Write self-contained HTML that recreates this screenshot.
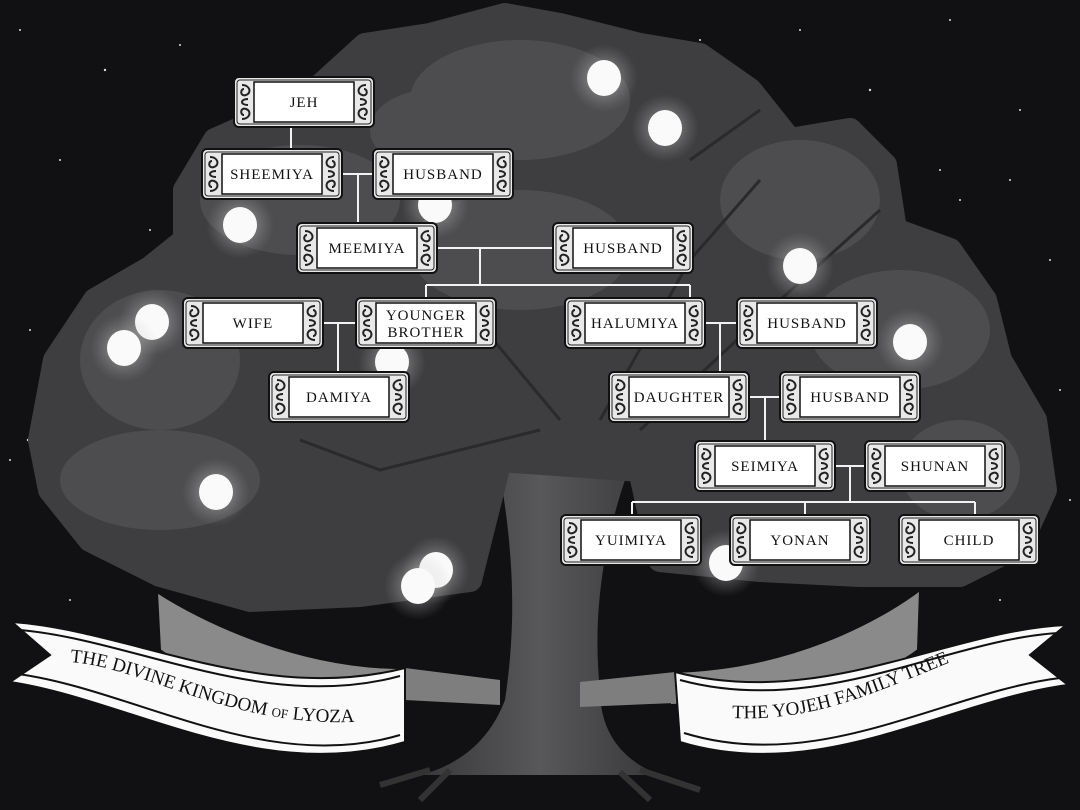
<!DOCTYPE html>
<html><head><meta charset="utf-8"><style>
html,body{margin:0;padding:0;background:#111114;}
svg{display:block}
text{font-family:"Liberation Serif",serif;}
</style></head><body>
<svg width="1080" height="810" viewBox="0 0 1080 810" xmlns="http://www.w3.org/2000/svg">
<defs>
<radialGradient id="glow"><stop offset="0" stop-color="#fff" stop-opacity="0.55"/><stop offset="1" stop-color="#aaa" stop-opacity="0"/></radialGradient>
<linearGradient id="trunk" x1="0" x2="1"><stop offset="0" stop-color="#38383a"/><stop offset="0.5" stop-color="#58585a"/><stop offset="1" stop-color="#38383a"/></linearGradient>
<g id="frame">
<rect x="0" y="0" width="140" height="50" rx="5" fill="#e8e8e8" stroke="#111" stroke-width="2"/>
<rect x="3" y="3" width="134" height="44" rx="3" fill="none" stroke="#222" stroke-width="1"/>
<g fill="none" stroke="#222" stroke-width="2">
<path d="M8 8 C16 8 18 16 12 18 C6 20 6 12 10 12 M8 42 C16 42 18 34 12 32 C6 30 6 38 10 38 M14 22 C6 22 6 28 14 28"/>
<path d="M132 8 C124 8 122 16 128 18 C134 20 134 12 130 12 M132 42 C124 42 122 34 128 32 C134 30 134 38 130 38 M126 22 C134 22 134 28 126 28"/>
</g>
<rect x="20" y="5" width="100" height="40" fill="#fff" stroke="#111" stroke-width="1.5"/>
</g>
<g id="lan"><circle r="34" fill="url(#glow)"/><ellipse rx="17" ry="18" fill="#fafafa"/></g>
</defs>
<rect width="1080" height="810" fill="#111114"/>
<g fill="#ddd">
<circle cx="20" cy="30" r="1"/><circle cx="105" cy="70" r="1.2"/><circle cx="180" cy="45" r="1"/><circle cx="60" cy="160" r="1"/><circle cx="150" cy="230" r="1"/><circle cx="30" cy="330" r="1"/><circle cx="10" cy="460" r="1"/><circle cx="800" cy="30" r="1"/><circle cx="870" cy="90" r="1.2"/><circle cx="950" cy="20" r="1"/><circle cx="1020" cy="110" r="1"/><circle cx="960" cy="200" r="1"/><circle cx="1050" cy="260" r="1"/><circle cx="1060" cy="390" r="1"/><circle cx="940" cy="170" r="1"/><circle cx="700" cy="40" r="1"/><circle cx="430" cy="25" r="1"/><circle cx="1000" cy="600" r="1"/><circle cx="940" cy="560" r="1"/><circle cx="70" cy="600" r="1"/><circle cx="120" cy="530" r="1"/><circle cx="1070" cy="500" r="1"/><circle cx="28" cy="440" r="1.2"/><circle cx="80" cy="540" r="1"/><circle cx="1010" cy="180" r="1"/>
</g>
<!-- trunk -->
<path d="M490 420 C510 520 520 600 505 700 C490 740 460 765 420 775 L660 775 C620 760 600 730 600 690 C590 600 610 500 650 420 Z" fill="url(#trunk)"/>
<path d="M430 770 L380 785 M450 770 L420 800 M640 770 L700 790 M620 772 L650 800" stroke="#333" stroke-width="6"/>
<!-- canopy -->
<path d="M40 440 L55 360 L95 300 L150 268 L185 240 L185 190 L215 140 L260 120 L310 95 L365 45 L430 35 L505 15 L560 25 L640 45 L700 55 L750 90 L790 140 L850 130 L885 165 L895 230 L950 250 L985 300 L1000 360 L1035 420 L1045 490 L1020 545 L960 575 L860 575 L760 570 L660 560 L640 470 L500 460 L470 580 L360 595 L250 600 L160 575 L90 540 L50 490 Z" fill="#3e3e40" stroke="#3e3e40" stroke-width="24" stroke-linejoin="round"/>
<g fill="#505052" opacity="0.85">
<ellipse cx="520" cy="100" rx="110" ry="60"/>
<ellipse cx="300" cy="200" rx="100" ry="55"/>
<ellipse cx="800" cy="200" rx="80" ry="60"/>
<ellipse cx="160" cy="360" rx="80" ry="70"/>
<ellipse cx="900" cy="330" rx="90" ry="60"/>
<ellipse cx="520" cy="250" rx="110" ry="60"/>
<ellipse cx="160" cy="480" rx="100" ry="50"/>
<ellipse cx="960" cy="470" rx="60" ry="50"/>
<ellipse cx="430" cy="130" rx="60" ry="40"/>
</g>
<!-- branches -->
<g stroke="#2a2a2c" stroke-width="3" fill="none">
<path d="M560 420 L460 300 M600 420 L690 260 L760 180 M540 430 L380 470 L300 440 M640 430 L780 300 L880 210 M690 160 L760 110"/>
</g>
<!-- lanterns -->
<use href="#lan" x="604" y="78"/><use href="#lan" x="665" y="128"/><use href="#lan" x="240" y="225"/><use href="#lan" x="435" y="205"/><use href="#lan" x="800" y="266"/><use href="#lan" x="152" y="322"/><use href="#lan" x="124" y="348"/><use href="#lan" x="910" y="342"/><use href="#lan" x="392" y="362"/><use href="#lan" x="216" y="492"/><use href="#lan" x="436" y="570"/><use href="#lan" x="418" y="586"/><use href="#lan" x="726" y="563"/>
<!-- connectors -->
<g stroke="#f2f2f2" stroke-width="2" fill="none">
<path d="M291 127 V149"/>
<path d="M342 174 H373 M358 174 V222"/>
<path d="M437 248 H553 M480 248 V285 M426 285 H690 M426 285 V298 M690 285 V298"/>
<path d="M323 323 H356 M338 323 V372"/>
<path d="M705 323 H737 M720 323 V372"/>
<path d="M748 397 H780 M765 397 V441"/>
<path d="M834 466 H865 M850 466 V502 M632 502 H975 M632 502 V515 M805 502 V515 M975 502 V515"/>
</g>
<!-- boxes -->
<g>
<use href="#frame" x="234" y="77"/><use href="#frame" x="202" y="149"/><use href="#frame" x="373" y="149"/>
<use href="#frame" x="297" y="223"/><use href="#frame" x="553" y="223"/>
<use href="#frame" x="183" y="298"/><use href="#frame" x="356" y="298"/><use href="#frame" x="565" y="298"/><use href="#frame" x="737" y="298"/>
<use href="#frame" x="269" y="372"/><use href="#frame" x="609" y="372"/><use href="#frame" x="780" y="372"/>
<use href="#frame" x="695" y="441"/><use href="#frame" x="865" y="441"/>
<use href="#frame" x="561" y="515"/><use href="#frame" x="730" y="515"/><use href="#frame" x="899" y="515"/>
</g>
<g font-size="15" fill="#111" text-anchor="middle" letter-spacing="1">
<text x="304" y="107">JEH</text>
<text x="272" y="179">SHEEMIYA</text>
<text x="443" y="179">HUSBAND</text>
<text x="367" y="253">MEEMIYA</text>
<text x="623" y="253">HUSBAND</text>
<text x="253" y="328">WIFE</text>
<text x="426" y="320">YOUNGER</text>
<text x="426" y="337">BROTHER</text>
<text x="635" y="328">HALUMIYA</text>
<text x="807" y="328">HUSBAND</text>
<text x="339" y="402">DAMIYA</text>
<text x="679" y="402">DAUGHTER</text>
<text x="850" y="402">HUSBAND</text>
<text x="765" y="471">SEIMIYA</text>
<text x="935" y="471">SHUNAN</text>
<text x="631" y="545">YUIMIYA</text>
<text x="800" y="545">YONAN</text>
<text x="969" y="545">CHILD</text>
</g>
<!-- back grey ribbon -->
<path d="M157 592 C200 620 300 670 410 668 L410 700 C300 700 200 680 160 650 Z" fill="#8a8a8a" stroke="#111" stroke-width="2"/>
<path d="M920 590 C880 620 790 670 670 672 L670 705 C790 700 880 680 918 650 Z" fill="#8a8a8a" stroke="#111" stroke-width="2"/>
<path d="M405 668 L500 680 L500 705 L405 700 Z M580 682 L675 672 L675 703 L580 707 Z" fill="#7e7e7e"/>
<!-- left banner -->
<path d="M12 622 C130 630 260 705 405 668 L405 742 C260 785 130 700 10 682 L50 655 Z" fill="#fafafa" stroke="#111" stroke-width="2"/>
<path d="M20 630 C135 640 265 713 400 676 M18 674 C135 690 265 775 400 735" fill="none" stroke="#111" stroke-width="2"/>
<path id="lp" d="M70 662 C150 668 240 735 380 720" fill="none"/>
<text font-size="19" fill="#111"><textPath href="#lp">THE DIVINE KINGDOM <tspan font-size="13">OF</tspan> LYOZA</textPath></text>
<!-- right banner -->
<path d="M1066 625 C950 630 820 710 675 672 L680 742 C820 785 950 700 1068 685 L1030 655 Z" fill="#fafafa" stroke="#111" stroke-width="2"/>
<path d="M1058 633 C945 640 820 718 680 680 M1060 678 C945 692 820 775 684 733" fill="none" stroke="#111" stroke-width="2"/>
<path id="rp" d="M732 718 C820 722 880 690 985 648" fill="none"/>
<text font-size="19" fill="#111"><textPath href="#rp">THE YOJEH FAMILY TREE</textPath></text>
</svg>
</body></html>
